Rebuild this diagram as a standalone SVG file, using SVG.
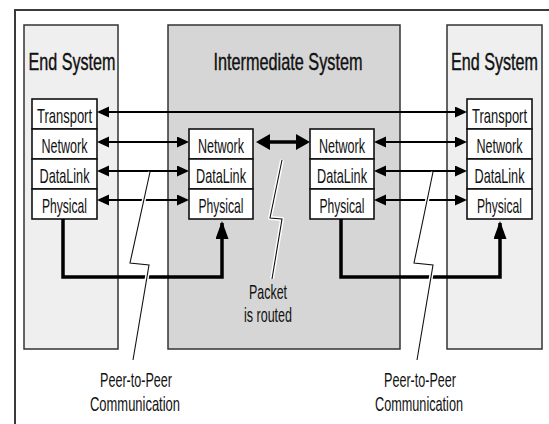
<svg xmlns="http://www.w3.org/2000/svg" width="549" height="424" viewBox="0 0 549 424">
<style>
  .frame { fill: none; stroke: #3a3a3a; stroke-width: 2; }
  .sys-end { fill: #efefef; stroke: #333; stroke-width: 1.5; }
  .sys-mid { fill: #d6d6d6; stroke: #333; stroke-width: 1.5; }
  .layer { fill: #ffffff; stroke: #111; stroke-width: 1.6; }
  .title { font-family: "Liberation Sans", Arial, sans-serif; font-size: 23px; fill: #111; text-anchor: middle; stroke: #111; stroke-width: 0.4; }
  .lbl { font-family: "Liberation Sans", Arial, sans-serif; font-size: 20px; fill: #111; text-anchor: middle; }
  .arr { fill: none; stroke: #000; stroke-width: 2; marker-start: url(#ah); marker-end: url(#ah); }
  .arr-big { fill: none; stroke: #000; stroke-width: 3.5; marker-start: url(#ahb); marker-end: url(#ahb); }
  .phys { fill: none; stroke: #000; stroke-width: 3.5; stroke-linejoin: miter; marker-end: url(#ahu); }
  .halo { fill: none; stroke: #fff; stroke-width: 4; stroke-linejoin: round; }
  .bolt { fill: none; stroke: #111; stroke-width: 1.1; stroke-linejoin: miter; }
</style>
<defs>
  <marker id="ah" markerUnits="userSpaceOnUse" markerWidth="13" markerHeight="12" refX="10" refY="5.5" orient="auto-start-reverse" viewBox="0 0 13 12">
    <path d="M0,0 L12,5.5 L0,11 z" fill="#000"/>
  </marker>
  <marker id="ahb" markerUnits="userSpaceOnUse" markerWidth="15" markerHeight="17" refX="11" refY="8" orient="auto-start-reverse" viewBox="0 0 15 17">
    <path d="M0,0 L14,8 L0,16 z" fill="#000"/>
  </marker>
  <marker id="ahu" markerUnits="userSpaceOnUse" markerWidth="19" markerHeight="13" refX="16" refY="6.5" orient="auto" viewBox="0 0 19 13">
    <path d="M0,0 L18,6.5 L0,13 z" fill="#000"/>
  </marker>
</defs>

<rect x="0" y="0" width="549" height="424" fill="#ffffff"/>
<path class="frame" d="M15,424 V10 H549"/>

<g id="end-system-left">
  <rect class="sys-end" x="24" y="25" width="94" height="324"/>
  <text class="title" transform="translate(72,70) scale(0.72,1)" textLength="120.8" lengthAdjust="spacingAndGlyphs">End System</text>
</g>
<g id="intermediate-system">
  <rect class="sys-mid" x="168" y="25" width="232" height="324"/>
  <text class="title" transform="translate(288,70) scale(0.72,1)" textLength="207" lengthAdjust="spacingAndGlyphs">Intermediate System</text>
</g>
<g id="end-system-right">
  <rect class="sys-end" x="447" y="25" width="95" height="324"/>
  <text class="title" transform="translate(494.5,70) scale(0.72,1)" textLength="120.8" lengthAdjust="spacingAndGlyphs">End System</text>
</g>

<g id="left-transport"><rect class="layer" x="32" y="99" width="65" height="30"/><text class="lbl" transform="translate(64.5,123) scale(0.63,1)" textLength="87.3" lengthAdjust="spacingAndGlyphs">Transport</text></g>
<g id="left-network"><rect class="layer" x="32" y="129" width="65" height="30"/><text class="lbl" transform="translate(64.5,153) scale(0.63,1)" textLength="73" lengthAdjust="spacingAndGlyphs">Network</text></g>
<g id="left-datalink"><rect class="layer" x="32" y="159" width="65" height="30"/><text class="lbl" transform="translate(64.5,183) scale(0.63,1)" textLength="79.4" lengthAdjust="spacingAndGlyphs">DataLink</text></g>
<g id="left-physical"><rect class="layer" x="32" y="189" width="65" height="30"/><text class="lbl" transform="translate(64.5,213) scale(0.63,1)" textLength="71.4" lengthAdjust="spacingAndGlyphs">Physical</text></g>

<g id="midL-network"><rect class="layer" x="189" y="129" width="64" height="30"/><text class="lbl" transform="translate(221,153) scale(0.63,1)" textLength="73" lengthAdjust="spacingAndGlyphs">Network</text></g>
<g id="midL-datalink"><rect class="layer" x="189" y="159" width="64" height="30"/><text class="lbl" transform="translate(221,183) scale(0.63,1)" textLength="79.4" lengthAdjust="spacingAndGlyphs">DataLink</text></g>
<g id="midL-physical"><rect class="layer" x="189" y="189" width="64" height="30"/><text class="lbl" transform="translate(221,213) scale(0.63,1)" textLength="71.4" lengthAdjust="spacingAndGlyphs">Physical</text></g>

<g id="midR-network"><rect class="layer" x="310" y="129" width="64" height="30"/><text class="lbl" transform="translate(342,153) scale(0.63,1)" textLength="73" lengthAdjust="spacingAndGlyphs">Network</text></g>
<g id="midR-datalink"><rect class="layer" x="310" y="159" width="64" height="30"/><text class="lbl" transform="translate(342,183) scale(0.63,1)" textLength="79.4" lengthAdjust="spacingAndGlyphs">DataLink</text></g>
<g id="midR-physical"><rect class="layer" x="310" y="189" width="64" height="30"/><text class="lbl" transform="translate(342,213) scale(0.63,1)" textLength="71.4" lengthAdjust="spacingAndGlyphs">Physical</text></g>

<g id="right-transport"><rect class="layer" x="467" y="99" width="65" height="30"/><text class="lbl" transform="translate(499.5,123) scale(0.63,1)" textLength="87.3" lengthAdjust="spacingAndGlyphs">Transport</text></g>
<g id="right-network"><rect class="layer" x="467" y="129" width="65" height="30"/><text class="lbl" transform="translate(499.5,153) scale(0.63,1)" textLength="73" lengthAdjust="spacingAndGlyphs">Network</text></g>
<g id="right-datalink"><rect class="layer" x="467" y="159" width="65" height="30"/><text class="lbl" transform="translate(499.5,183) scale(0.63,1)" textLength="79.4" lengthAdjust="spacingAndGlyphs">DataLink</text></g>
<g id="right-physical"><rect class="layer" x="467" y="189" width="65" height="30"/><text class="lbl" transform="translate(499.5,213) scale(0.63,1)" textLength="71.4" lengthAdjust="spacingAndGlyphs">Physical</text></g>

<g id="connectors">
  <line class="arr" x1="99" y1="112" x2="465" y2="112"/>
  <line class="arr" x1="99" y1="142" x2="187" y2="142"/>
  <line class="arr" x1="99" y1="171" x2="187" y2="171"/>
  <line class="arr" x1="99" y1="200" x2="187" y2="200"/>
  <line class="arr-big" x1="259" y1="142" x2="307" y2="142"/>
  <line class="arr" x1="376" y1="142" x2="465" y2="142"/>
  <line class="arr" x1="376" y1="171" x2="465" y2="171"/>
  <line class="arr" x1="376" y1="200" x2="465" y2="200"/>
  <path class="phys" d="M63,219 V277 H222 V223"/>
  <path class="phys" d="M341,219 V277 H500 V223"/>
  <path class="halo" d="M150,172 L130,263 L149,265 L133,360"/>
  <path class="bolt" d="M150,172 L130,263 L149,265 L133,360"/>
  <path class="halo" d="M282,160 L270,218 L282,219 L272,279"/>
  <path class="bolt" d="M282,160 L270,218 L282,219 L272,279"/>
  <path class="halo" d="M433,172 L414,263 L433,265 L417,360"/>
  <path class="bolt" d="M433,172 L414,263 L433,265 L417,360"/>
</g>

<g id="labels">
  <text class="lbl" transform="translate(268,299) scale(0.63,1)" textLength="60.3" lengthAdjust="spacingAndGlyphs">Packet</text>
  <text class="lbl" transform="translate(268,322) scale(0.63,1)" textLength="76.2" lengthAdjust="spacingAndGlyphs">is routed</text>
  <text class="lbl" transform="translate(136,387) scale(0.63,1)" textLength="114.3" lengthAdjust="spacingAndGlyphs">Peer-to-Peer</text>
  <text class="lbl" transform="translate(135,411) scale(0.63,1)" textLength="142.9" lengthAdjust="spacingAndGlyphs">Communication</text>
  <text class="lbl" transform="translate(420,387) scale(0.63,1)" textLength="114.3" lengthAdjust="spacingAndGlyphs">Peer-to-Peer</text>
  <text class="lbl" transform="translate(419,411) scale(0.63,1)" textLength="139.7" lengthAdjust="spacingAndGlyphs">Communication</text>
</g>
</svg>
